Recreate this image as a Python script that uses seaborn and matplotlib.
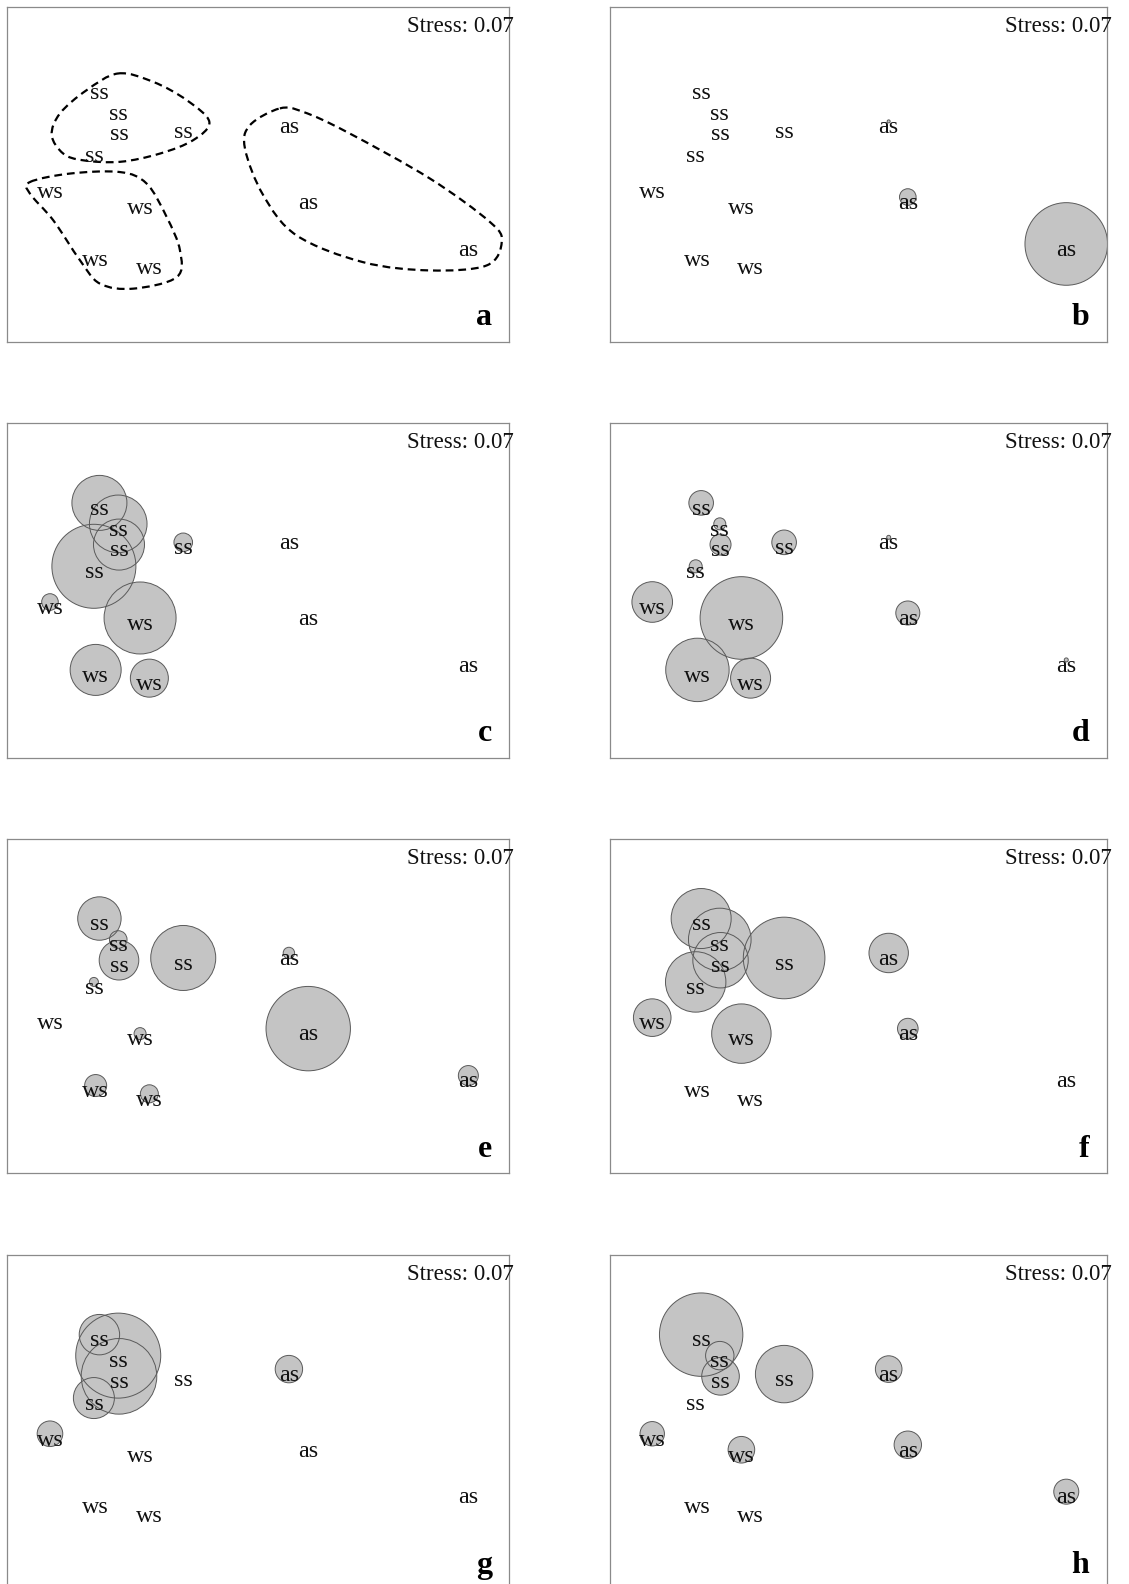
import numpy as np
import pandas as pd
import matplotlib
matplotlib.use("Agg")
import matplotlib.pyplot as plt
import seaborn as sns
from matplotlib.path import Path
from matplotlib.patches import PathPatch

# ---------------- data ----------------
sample_group = ["ss", "ss", "ss", "ss", "ss", "ws", "ws", "ws", "ws", "as", "as", "as"]
nmds1 = [-0.633, -0.558, -0.555, -0.299, -0.655, -0.830, -0.471, -0.648, -0.434, 0.122, 0.199, 0.837]
nmds2 = [0.351, 0.267, 0.184, 0.193, 0.097, -0.046, -0.110, -0.318, -0.351, 0.213, -0.090, -0.278]

panel_letters = ["a", "b", "c", "d", "e", "f", "g", "h"]
stress_label = "Stress: 0.07"

# bubble radii (px), same sample order as above
bubble_b = [0, 0, 0, 0, 0, 0, 0, 0, 0, 1.5, 8.3, 41.3]
bubble_c = [27.5, 28.8, 25.5, 9.3, 42.0, 8.3, 36.0, 25.5, 19.0, 0, 0, 0]
bubble_d = [12.3, 6.0, 10.5, 12.3, 6.5, 20.3, 41.3, 31.7, 20.0, 2.0, 12.0, 2.0]
bubble_e = [21.7, 8.8, 19.8, 32.5, 4.5, 0, 6.0, 11.0, 9.0, 5.7, 42.2, 10.0]
bubble_f = [30.0, 31.3, 27.7, 40.8, 30.2, 18.8, 29.7, 0, 0, 19.7, 10.3, 0]
bubble_g = [20.2, 42.5, 37.8, 0, 20.5, 12.8, 0, 0, 0, 13.7, 0, 0]
bubble_h = [41.7, 14.2, 18.8, 28.7, 0, 12.2, 13.3, 0, 0, 13.3, 13.7, 12.5]
bubbles = {"b": bubble_b, "c": bubble_c, "d": bubble_d, "e": bubble_e,
           "f": bubble_f, "g": bubble_g, "h": bubble_h}

# group envelopes drawn in panel a (outline vertices)
hull_ss_x = [-0.558, -0.418, -0.285, -0.195, -0.259, -0.392, -0.551, -0.697, -0.777, -0.823, -0.790, -0.684]
hull_ss_y = [0.405, 0.371, 0.298, 0.211, 0.138, 0.084, 0.051, 0.057, 0.084, 0.158, 0.245, 0.338]
hull_ws_x = [-0.910, -0.750, -0.551, -0.445, -0.365, -0.312, -0.325, -0.498, -0.631, -0.710, -0.817, -0.910]
hull_ws_y = [-0.030, 0.004, 0.010, -0.036, -0.170, -0.304, -0.411, -0.457, -0.437, -0.344, -0.183, -0.076]
hull_as_x = [0.086, 0.179, 0.352, 0.684, 0.923, 0.970, 0.910, 0.684, 0.418, 0.153, 0.020, -0.053, -0.033]
hull_as_y = [0.265, 0.251, 0.171, -0.016, -0.190, -0.270, -0.364, -0.384, -0.351, -0.244, -0.083, 0.104, 0.198]
hulls = [(hull_ss_x, hull_ss_y), (hull_ws_x, hull_ws_y), (hull_as_x, hull_as_y)]

# ---------------- style ----------------
sns.set_style("white")
plt.rcParams["font.family"] = ["Liberation Serif", "DejaVu Serif"]

DPI = 100
fig = plt.figure(figsize=(11.29, 15.84), dpi=DPI)
col_left = [0.00647, 0.5403]
col_width = [0.4446, 0.4400]
row_bottom = [0.7842, 0.5216, 0.2592, -0.0035]
row_height = 0.2112

R_MAX = 45.0
AREA_MAX = R_MAX ** 2
S_MAX = (2 * R_MAX * 72.0 / DPI) ** 2

FILL = "#c4c4c4"
EDGE = "#5a5a5a"


def smooth_closed_path(xs, ys):
    P = np.column_stack([xs, ys])
    n = len(P)
    verts = [P[0]]
    codes = [Path.MOVETO]
    for i in range(n):
        p0, p1, p2, p3 = P[i - 1], P[i], P[(i + 1) % n], P[(i + 2) % n]
        verts += [p1 + (p2 - p0) / 6.0, p2 - (p3 - p1) / 6.0, p2]
        codes += [Path.CURVE4] * 3
    return Path(verts, codes)


for i, letter in enumerate(panel_letters):
    r, c = divmod(i, 2)
    ax = fig.add_axes([col_left[c], row_bottom[r], col_width[c], row_height])

    if letter in bubbles:
        df = pd.DataFrame({"NMDS1": nmds1, "NMDS2": nmds2,
                           "area": np.square(bubbles[letter])})
        df = df[df["area"] > 0]
        # fills
        sns.scatterplot(data=df, x="NMDS1", y="NMDS2", size="area",
                        sizes=(0, S_MAX), size_norm=(0, AREA_MAX),
                        color=FILL, edgecolor="none", linewidth=0,
                        legend=False, ax=ax, zorder=2)
        # outlines
        sns.scatterplot(data=df, x="NMDS1", y="NMDS2", size="area",
                        sizes=(0, S_MAX), size_norm=(0, AREA_MAX),
                        color=FILL, linewidth=0.7,
                        legend=False, ax=ax, zorder=2.2)
        outl = ax.collections[-1]
        outl.set_facecolor("none")
        outl.set_edgecolor(EDGE)
        outl.set_linewidth(0.7)
    else:
        for hx, hy in hulls:
            ax.add_patch(PathPatch(smooth_closed_path(hx, hy), fill=False,
                                   edgecolor="black", linewidth=1.6,
                                   linestyle=(0, (3.5, 2.2)), zorder=2.5))

    for lab, x, y in zip(sample_group, nmds1, nmds2):
        ax.annotate(lab, (x, y), xytext=(0, -8.5), textcoords="offset points",
                    ha="center", va="baseline", fontsize=17.3, color="#111111",
                    zorder=3)

    ax.annotate(stress_label, (1, 1), xycoords="axes fraction",
                xytext=(3.3, -18.0), textcoords="offset points",
                ha="right", va="baseline", fontsize=16.5, color="#111111",
                annotation_clip=False, zorder=4)
    ax.annotate(letter, (1, 0), xycoords="axes fraction",
                xytext=(-12.6, 11.9), textcoords="offset points",
                ha="right", va="baseline", fontsize=23, fontweight="bold",
                color="black", zorder=4)

    ax.set_xlim(-1, 1)
    ax.set_ylim(-0.67, 0.67)
    ax.set_xticks([])
    ax.set_yticks([])
    ax.set_xlabel("")
    ax.set_ylabel("")
    for sp in ax.spines.values():
        sp.set_color("#8a8a8a")
        sp.set_linewidth(0.9)
        sp.set_visible(True)

fig.savefig("out.png", dpi=DPI)
